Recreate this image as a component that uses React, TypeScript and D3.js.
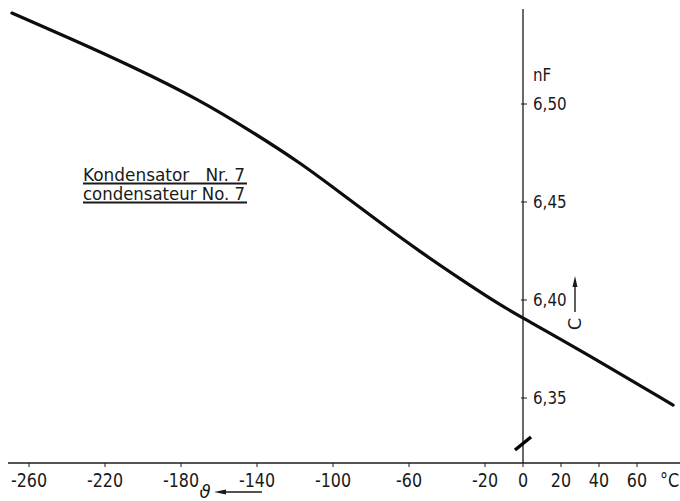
import * as d3 from 'd3';
import { useEffect, useRef } from 'react';

// temperature (°C)
const temps = [-269, -240, -205, -170, -144, -117, -96, -75, -54, -33, -12, 0, 30, 79];
// capacitance (nF) at those temperatures
const caps = [6.5464, 6.5342, 6.5189, 6.502, 6.4867, 6.4699, 6.4546, 6.4393, 6.4245, 6.4107, 6.3974, 6.3908, 6.3745, 6.3464];

const xTicks = [-260, -220, -180, -140, -100, -60, -20, 0, 20, 40, 60];
const yTicks = [6.35, 6.4, 6.45, 6.5];
const yTickLabels = ['6,35', '6,40', '6,45', '6,50'];
const captionLines = ['Kondensator   Nr. 7', 'condensateur No. 7'];

const FONT = "'DejaVu Sans', sans-serif";
const SQUEEZE = 0.84;

const App = () => {
  const ref = useRef<SVGSVGElement>(null);

  useEffect(() => {
    const svg = d3.select(ref.current);
    svg.selectAll('*').remove();

    const x = d3.scaleLinear().domain([-260, 0]).range([29, 523]);
    const y = d3.scaleLinear().domain([6.35, 6.5]).range([398, 104]);
    const axisY = 463;
    const ink = '#1a1a1a';

    const g = svg.append('g').attr('font-family', FONT).attr('fill', ink);

    // x axis line
    g.append('line')
      .attr('x1', 8).attr('x2', 680)
      .attr('y1', axisY).attr('y2', axisY)
      .attr('stroke', ink).attr('stroke-width', 1.3);

    // y axis line
    g.append('line')
      .attr('x1', x(0)).attr('x2', x(0))
      .attr('y1', 9).attr('y2', axisY)
      .attr('stroke', ink).attr('stroke-width', 1.3);

    // x ticks + labels
    const xt = g.append('g').selectAll('g').data(xTicks).enter().append('g')
      .attr('transform', (d) => 'translate(' + x(d) + ',' + axisY + ')');
    xt.append('line').attr('y1', 0).attr('y2', 4).attr('stroke', ink).attr('stroke-width', 1);
    xt.append('text')
      .attr('transform', 'translate(0,24) scale(' + SQUEEZE + ',1)')
      .attr('text-anchor', 'middle')
      .attr('font-size', 19)
      .text((d) => (d < 0 ? '-' + Math.abs(d) : String(d)));

    g.append('text')
      .attr('transform', 'translate(660,' + (axisY + 24) + ') scale(' + SQUEEZE + ',1)')
      .attr('font-size', 19)
      .text('°C');

    // y ticks + labels
    const yt = g.append('g').selectAll('g').data(yTicks).enter().append('g')
      .attr('transform', (d) => 'translate(' + x(0) + ',' + y(d) + ')');
    yt.append('line').attr('x1', -2).attr('x2', 4).attr('stroke', ink).attr('stroke-width', 1);
    yt.append('text')
      .attr('transform', 'translate(10,0) scale(' + SQUEEZE + ',1)')
      .attr('dy', '0.36em')
      .attr('font-size', 18)
      .text((d, i) => yTickLabels[i]);

    g.append('text')
      .attr('transform', 'translate(' + (x(0) + 10) + ',75) scale(' + SQUEEZE + ',1)')
      .attr('dy', '0.36em')
      .attr('font-size', 18)
      .text('nF');

    // axis break mark
    g.append('line')
      .attr('x1', x(0) - 8).attr('y1', 450)
      .attr('x2', x(0) + 8).attr('y2', 437)
      .attr('stroke', '#000').attr('stroke-width', 3.5);

    // C arrow (up)
    const cx = 575;
    g.append('line').attr('x1', cx).attr('x2', cx).attr('y1', 312).attr('y2', 286)
      .attr('stroke', ink).attr('stroke-width', 1.4);
    g.append('path').attr('d', `M${cx - 2.5},287 L${cx},276 L${cx + 2.5},287 Z`).attr('fill', ink);
    g.append('text')
      .attr('transform', `translate(${cx + 6},324) rotate(-90)`)
      .attr('text-anchor', 'middle')
      .attr('font-size', 18)
      .text('C');

    // theta arrow (left)
    g.append('text')
      .attr('x', 205).attr('y', 498)
      .attr('text-anchor', 'middle')
      .attr('font-size', 18)
      .attr('font-style', 'italic')
      .text('ϑ');
    g.append('line').attr('x1', 224).attr('x2', 262).attr('y1', 492).attr('y2', 492)
      .attr('stroke', ink).attr('stroke-width', 1.4);
    g.append('path').attr('d', 'M226,489.5 L214,492 L226,494.5 Z').attr('fill', ink);

    // caption with underlines
    const cap = g.append('g').selectAll('g').data(captionLines).enter().append('g')
      .attr('transform', (d, i) => 'translate(83,' + (181 + i * 19) + ')');
    cap.append('text')
      .attr('font-size', 17)
      .attr('textLength', 162)
      .attr('lengthAdjust', 'spacingAndGlyphs')
      .style('white-space', 'pre')
      .text((d) => d);
    cap.append('line')
      .attr('x1', 0).attr('x2', 164).attr('y1', 2.5).attr('y2', 2.5)
      .attr('stroke', ink).attr('stroke-width', 1.8);

    // the curve
    const pts = temps.map((t, i) => [t, caps[i]] as [number, number]);
    const line = d3.line<[number, number]>()
      .x((d) => x(d[0]))
      .y((d) => y(d[1]))
      .curve(d3.curveBasis);
    g.append('path')
      .datum(pts)
      .attr('d', line)
      .attr('fill', 'none')
      .attr('stroke', '#0d0d0d')
      .attr('stroke-width', 3.2)
      .attr('stroke-linecap', 'round');
  }, []);

  return (
    <svg
      ref={ref}
      width={680}
      height={501}
      style={{ position: 'absolute', left: 0, top: 0, background: '#fff', display: 'block' }}
    />
  );
};

export default App;
